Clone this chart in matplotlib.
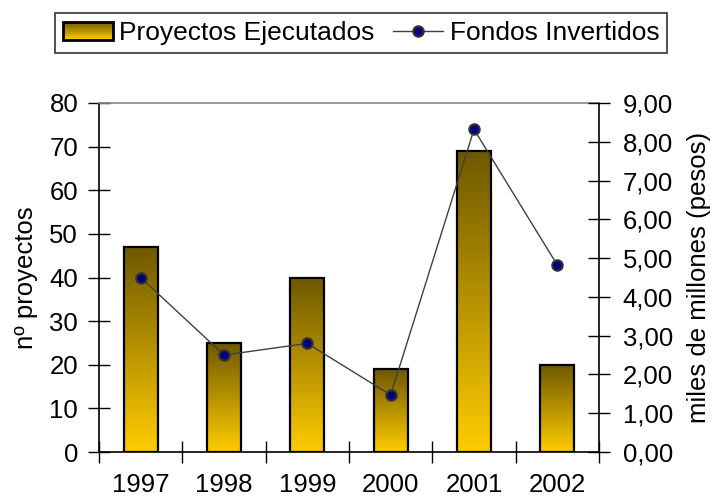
import numpy as np
import matplotlib
matplotlib.use("Agg")
import matplotlib.pyplot as plt
from matplotlib.colors import LinearSegmentedColormap
from matplotlib.patches import Rectangle
from matplotlib.lines import Line2D
from matplotlib.legend_handler import HandlerBase

plt.rcParams['font.family'] = ['Liberation Sans', 'DejaVu Sans']

years = ['1997', '1998', '1999', '2000', '2001', '2002']
proyectos = [47, 25, 40, 19, 69, 20]
fondos = [4.50, 2.50, 2.80, 1.47, 8.32, 4.82]

FS = 18.5
grad = LinearSegmentedColormap.from_list('oro', ['#ffcc00', '#6e5800'])

fig = plt.figure(figsize=(7.11, 5), dpi=100)
ax = fig.add_axes([99 / 711, 48 / 500, 500 / 711, 349 / 500])
x = np.arange(len(years))

bars = ax.bar(x, proyectos, width=0.41, facecolor='none', edgecolor='black',
              linewidth=1.6, zorder=3)
g = np.linspace(0, 1, 256).reshape(-1, 1)
for b in bars:
    x0, w, h = b.get_x(), b.get_width(), b.get_height()
    im = ax.imshow(g, cmap=grad, origin='lower', aspect='auto',
                   extent=[x0, x0 + w, 0, h], zorder=2, interpolation='bilinear')
    im.set_clip_path(b)

ax.set_xlim(-0.5, len(years) - 0.5)
ax.set_ylim(0, 80)
ax.set_yticks(range(0, 81, 10))
ax.set_xticks(x)
ax.set_xticklabels(years)
ax.set_xticks(np.arange(-0.5, len(years)), minor=True)
ax.tick_params(axis='x', which='major', length=0, pad=15, labelsize=FS)
ax.tick_params(axis='x', which='minor', direction='inout', length=16, width=1)
ax.tick_params(axis='y', direction='inout', length=16, width=1, pad=7, labelsize=FS)
ax.set_ylabel('nº proyectos', fontsize=FS, labelpad=8)
for s in ax.spines.values():
    s.set_linewidth(1.2)
ax.spines['top'].set_color('#888888')

ax2 = ax.twinx()
ax2.set_ylim(0, 9)
ax2.set_yticks(range(0, 10))
ax2.set_yticklabels([f'{v},00' for v in range(0, 10)])
ax2.tick_params(axis='y', direction='inout', length=16, width=1, pad=9, labelsize=FS)
ax2.set_ylabel('miles de millones (pesos)', fontsize=FS, labelpad=10)
ax2.plot(x, fondos, color='#404040', linewidth=1, marker='o', markersize=7.5,
         markerfacecolor='#000080', markeredgecolor='#333333',
         markeredgewidth=1.5, zorder=4)
for s in ax2.spines.values():
    s.set_visible(False)
ax2.set_xlim(ax.get_xlim())


class GradientHandler(HandlerBase):
    def create_artists(self, legend, orig_handle, xdescent, ydescent,
                       width, height, fontsize, trans):
        arts = []
        n = 20
        for i in range(n):
            c = grad(1 - (i + 0.5) / n)
            r = Rectangle((-xdescent, -ydescent + height * (n - 1 - i) / n),
                          width, height / n, facecolor=c, edgecolor='none',
                          transform=trans)
            arts.append(r)
        arts.append(Rectangle((-xdescent, -ydescent), width, height,
                              facecolor='none', edgecolor='black',
                              linewidth=2, transform=trans))
        return arts


bar_handle = Rectangle((0, 0), 1, 1)
line_handle = Line2D([], [], color='#404040', linewidth=1, marker='o',
                     markersize=7.5, markerfacecolor='#000080',
                     markeredgecolor='#333333', markeredgewidth=1.5)
leg = fig.legend([bar_handle, line_handle],
                 ['Proyectos Ejecutados', 'Fondos Invertidos'],
                 handler_map={Rectangle: GradientHandler()},
                 loc='center', bbox_to_anchor=(361 / 711, 1 - 33 / 500),
                 ncol=2, fontsize=19, frameon=True, fancybox=False,
                 edgecolor='black', handlelength=1.9, handleheight=0.7,
                 columnspacing=0.7, handletextpad=0.25, borderpad=0.3,
                 borderaxespad=0)
leg.get_frame().set_linewidth(1.2)

fig.savefig('out.png', dpi=100)
